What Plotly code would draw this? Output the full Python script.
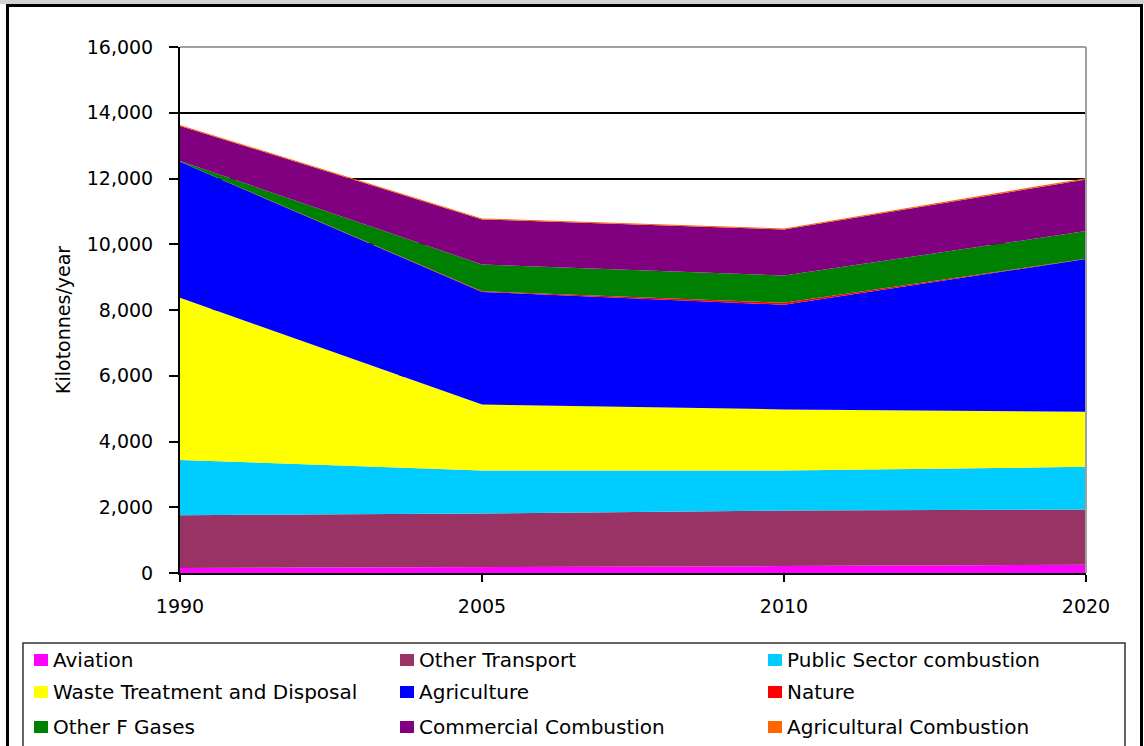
import plotly.graph_objects as go

# Emissions by source, kilotonnes per year
years = ["1990", "2005", "2010", "2020"]

aviation = [150, 175, 210, 250]
other_transport = [1610, 1635, 1690, 1680]
public_sector = [1680, 1310, 1220, 1300]
waste = [4930, 2005, 1855, 1675]
agriculture = [4140, 3425, 3185, 4645]
nature = [0, 20, 60, 10]
other_f_gases = [20, 815, 830, 840]
commercial = [1070, 1370, 1400, 1570]
agri_combustion = [30, 30, 30, 40]

series_names = [
    "Aviation", "Other Transport", "Public Sector combustion",
    "Waste Treatment and Disposal", "Agriculture", "Nature",
    "Other F Gases", "Commercial Combustion", "Agricultural Combustion",
]
series_values = [
    aviation, other_transport, public_sector,
    waste, agriculture, nature,
    other_f_gases, commercial, agri_combustion,
]
series_colors = [
    "#FF00FF", "#993366", "#00CCFF",
    "#FFFF00", "#0000FF", "#FF0000",
    "#008000", "#800080", "#FF6600",
]

W, H = 1144, 746
L, R, T, B = 180, 58, 47, 173
PW, PH = W - L - R, H - T - B
FONT = "DejaVu Sans"


def px(x):
    return (x - L) / PW


def py(y):
    return (H - B - y) / PH


fig = go.Figure()
for name, vals, col in zip(series_names, series_values, series_colors):
    fig.add_trace(go.Scatter(
        x=years, y=vals, name=name, mode="lines",
        stackgroup="all", line=dict(width=0, color=col),
        fillcolor=col, showlegend=False,
    ))

shapes = []
# grey frame on the top and right of the plot area
shapes.append(dict(type="line", xref="paper", yref="paper", x0=0, x1=1, y0=1, y1=1,
                   line=dict(color="#A0A0A0", width=2), layer="above"))
shapes.append(dict(type="line", xref="paper", yref="paper", x0=1, x1=1, y0=0, y1=1,
                   line=dict(color="#A0A0A0", width=2), layer="above"))
# outer chart border and light strip above it
shapes.append(dict(type="rect", xref="paper", yref="paper",
                   x0=px(0), x1=px(W), y0=py(0), y1=py(4),
                   fillcolor="#D2D2D2", line=dict(width=0)))
shapes.append(dict(type="rect", xref="paper", yref="paper",
                   x0=px(7.5), x1=px(1141.5), y0=py(5.5), y1=py(760),
                   line=dict(color="black", width=3)))
# legend box
shapes.append(dict(type="rect", xref="paper", yref="paper",
                   x0=px(23), x1=px(1125), y0=py(643), y1=py(760),
                   line=dict(color="#333333", width=1.5)))

annotations = []
col_x = [34, 400, 768]
row_y = [660, 692, 727]
for i, (name, col) in enumerate(zip(series_names, series_colors)):
    cx = col_x[i % 3]
    cy = row_y[i // 3]
    shapes.append(dict(type="rect", xref="paper", yref="paper",
                       x0=px(cx), x1=px(cx + 14), y0=py(cy + 6), y1=py(cy - 6),
                       fillcolor=col, line=dict(width=0)))
    annotations.append(dict(xref="paper", yref="paper", x=px(cx + 17), y=py(cy),
                            text=name, showarrow=False, xanchor="left", yanchor="middle",
                            font=dict(family=FONT, size=20, color="black")))

# y-axis title
annotations.append(dict(xref="paper", yref="paper", x=px(63), y=py(320),
                        text="Kilotonnes/year", showarrow=False, textangle=-90,
                        xanchor="center", yanchor="middle",
                        font=dict(family=FONT, size=19, color="black")))

fig.update_layout(
    width=W, height=H,
    margin=dict(l=L, r=R, t=T, b=B, pad=0),
    paper_bgcolor="white", plot_bgcolor="white",
    font=dict(family=FONT, size=18, color="black"),
    shapes=shapes, annotations=annotations,
    showlegend=False,
    xaxis=dict(
        type="category", range=[0, 3], showgrid=False,
        showline=True, linecolor="black", linewidth=2,
        ticks="outside", ticklen=7, tickcolor="black", tickwidth=2,
        ticklabelstandoff=8,
        tickfont=dict(family=FONT, size=19, color="black"),
    ),
    yaxis=dict(
        range=[0, 16000], dtick=2000, tickformat=",",
        showgrid=True, gridcolor="black", gridwidth=1.5,
        zeroline=False,
        showline=True, linecolor="black", linewidth=2,
        ticks="outside", ticklen=9, tickcolor="black", tickwidth=2,
        ticklabelstandoff=12,
        tickfont=dict(family=FONT, size=19, color="black"),
    ),
)

fig.write_html("out.html")
